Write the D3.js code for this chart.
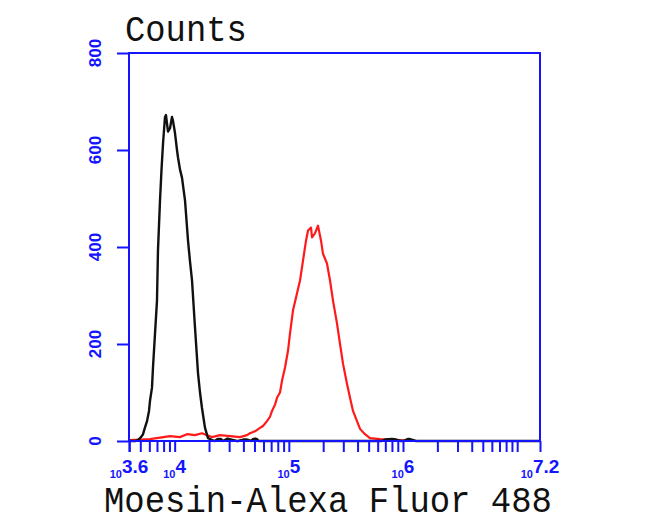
<!DOCTYPE html>
<html>
<head>
<meta charset="utf-8">
<script src="https://cdn.jsdelivr.net/npm/d3@7"></script>
<style>
  html, body { margin: 0; padding: 0; background: #fff; }
  svg { display: block; }
</style>
</head>
<body>
<svg id="chart" width="650" height="532"></svg>
<script>
// ---- data ----
const yTicks = [0, 200, 400, 600, 800];
const xMajorExps = [3.6, 4, 5, 6, 7.2];
const xMajorLabels = ["3.6", "4", "5", "6", "7.2"];
const xMinorTicks = [4000, 5000, 6000, 7000, 8000, 9000,
  20000, 30000, 40000, 50000, 60000, 70000, 80000, 90000,
  200000, 300000, 400000, 500000, 600000, 700000, 800000, 900000,
  2000000, 3000000, 4000000, 5000000, 6000000, 7000000, 8000000, 9000000, 10000000];

// control (black) histogram: fluorescence intensity, counts
const controlX = [4064, 4498, 4776, 5073, 5284, 5500, 5727, 5960, 6081, 6329, 6457, 6724, 7000, 7142, 7440, 7672, 7910, 8229, 8395, 8565, 8742, 9103, 9476, 9672, 10065, 10480, 10690, 11130, 11590, 12320, 13090, 13630, 14190, 15070, 16010, 16670, 17350, 18440, 19590, 21240, 22500, 23800, 25500, 26500, 29000, 35000, 36000, 40000, 43000, 47000, 48500, 51000, 52500, 54500, 57000, 200000, 650000, 700000, 800000, 870000, 950000, 1000000, 1100000, 1150000, 1300000, 1400000, 1500000, 15850000];
const controlY = [0, 0, 2, 8, 14, 28, 41, 62, 83, 110, 151, 221, 289, 393, 496, 560, 614, 668, 672, 655, 638, 645, 668, 660, 635, 600, 585, 560, 543, 496, 413, 370, 331, 234, 140, 100, 68, 27, 6, 2, 0, 4, 4, 0, 5, 0, 0, 3, 3, 0, 4, 5, 4, 0, 0, 0, 0, 3, 4, 3, 0, 0, 4, 4, 0, 0, 0, 0];

// Moesin (red) histogram: fluorescence intensity, counts
const moesinX = [4064, 6081, 9103, 11130, 12820, 15070, 17350, 19190, 21240, 24950, 30530, 37350, 43010, 45710, 50560, 55890, 59390, 64380, 68400, 71250, 75700, 78760, 83680, 87100, 92530, 98340, 102300, 108700, 117800, 125300, 133100, 141400, 147200, 156400, 159600, 169500, 180100, 191400, 199200, 215900, 229500, 243900, 264300, 280800, 298400, 323100, 343500, 364900, 395400, 420200, 464500, 513500, 629100, 769200, 941500, 1151000, 15850000];
const moesinY = [2, 4, 10, 8, 14, 12, 16, 12, 8, 12, 10, 8, 12, 16, 20, 27, 31, 41, 50, 62, 75, 89, 100, 124, 151, 186, 221, 269, 304, 331, 372, 413, 434, 440, 420, 428, 444, 413, 386, 366, 331, 289, 242, 200, 159, 118, 89, 62, 41, 25, 14, 6, 4, 3, 2, 0, 0];

const yTitle = "Counts";
const xTitle = "Moesin-Alexa Fluor 488";

// ---- drawing ----
const svg = d3.select("#chart");
const mLeft = 129, mRight = 540, mTop = 53, mBottom = 441;
const blue = "#1414ff";

const x = d3.scaleLog().domain([Math.pow(10, 3.6), Math.pow(10, 7.2)]).range([mLeft, mRight]);
const y = d3.scaleLinear().domain([0, 800]).range([mBottom, mTop]);

const lineGen = d3.line().x(d => x(d[0])).y(d => y(d[1]));

svg.append("path")
  .datum(moesinX.map((v, i) => [v, moesinY[i]]))
  .attr("d", lineGen)
  .attr("fill", "none").attr("stroke", "#ff1a1a").attr("stroke-width", 2.2)
  .attr("stroke-linejoin", "round");

svg.append("path")
  .datum(controlX.map((v, i) => [v, controlY[i]]))
  .attr("d", lineGen)
  .attr("fill", "none").attr("stroke", "#111").attr("stroke-width", 2.4)
  .attr("stroke-linejoin", "round");

// frame
svg.append("rect")
  .attr("x", mLeft).attr("y", mTop)
  .attr("width", mRight - mLeft).attr("height", mBottom - mTop)
  .attr("fill", "none").attr("stroke", blue).attr("stroke-width", 2);

// y axis
const yAxis = d3.axisLeft(y).tickValues(yTicks).tickSize(12).tickFormat("");
const gy = svg.append("g").attr("transform", `translate(${mLeft},0)`).call(yAxis);
gy.select(".domain").remove();
gy.selectAll("line").attr("stroke", blue).attr("stroke-width", 2);

gy.selectAll(".ylab")
  .data(yTicks)
  .enter().append("text")
  .attr("transform", d => `translate(${-34},${y(d)}) rotate(-90)`)
  .attr("text-anchor", "middle")
  .attr("dy", "0.36em")
  .attr("fill", blue)
  .attr("font-family", "Liberation Sans, Arial, sans-serif")
  .attr("font-weight", "bold")
  .attr("font-size", 17)
  .text(d => d);

// x axis ticks
const allTicks = xMinorTicks.concat(xMajorExps.map(e => Math.pow(10, e)));
const xAxis = d3.axisBottom(x).tickValues(allTicks).tickSize(11).tickFormat("");
const gx = svg.append("g").attr("transform", `translate(0,${mBottom})`).call(xAxis);
gx.select(".domain").remove();
gx.selectAll("line").attr("stroke", blue).attr("stroke-width", 2);

// x labels 10^e
const lab = svg.append("g");
xMajorExps.forEach((e, i) => {
  const t = lab.append("text")
    .attr("x", x(Math.pow(10, e)))
    .attr("y", 478)
    .attr("text-anchor", "middle")
    .attr("fill", blue)
    .attr("font-family", "Liberation Sans, Arial, sans-serif")
    .attr("font-weight", "bold");
  t.append("tspan").attr("font-size", 11).text("10");
  t.append("tspan").attr("font-size", 19).attr("dy", -5).text(xMajorLabels[i]);
});

// titles
svg.append("text")
  .attr("x", 125).attr("y", 41)
  .attr("font-family", "Liberation Mono, Courier New, monospace")
  .attr("font-size", 37)
  .attr("textLength", yTitle.length * 20.3)
  .attr("lengthAdjust", "spacingAndGlyphs")
  .attr("fill", "#111")
  .text(yTitle);

svg.append("text")
  .attr("x", 104).attr("y", 512)
  .attr("font-family", "Liberation Mono, Courier New, monospace")
  .attr("font-size", 37)
  .attr("textLength", xTitle.length * 20.36)
  .attr("lengthAdjust", "spacingAndGlyphs")
  .attr("fill", "#111")
  .text(xTitle);
</script>
</body>
</html>
